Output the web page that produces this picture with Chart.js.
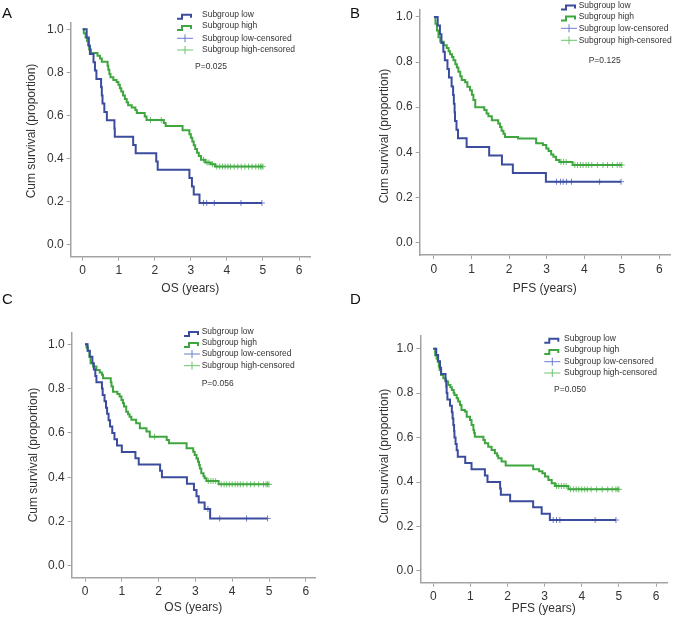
<!DOCTYPE html>
<html>
<head>
<meta charset="utf-8">
<script src="https://cdn.jsdelivr.net/npm/chart.js@4.4.0/dist/chart.umd.min.js"></script>
<style>
body { margin: 0; background: #fff; }
#page { position: relative; width: 675px; height: 617px; overflow: hidden; font-family: "Liberation Sans", Arial, sans-serif; }
.panel { position: absolute; }
.tag { position: absolute; font-size: 15px; line-height: 18px; color: #111; }
</style>
</head>
<body>
<div id="page">
  <div class="panel" style="left:0px;top:0px"><canvas id="chart0" width="337" height="308"></canvas></div>
  <div class="panel" style="left:337px;top:0px"><canvas id="chart1" width="338" height="308"></canvas></div>
  <div class="panel" style="left:0px;top:308px"><canvas id="chart2" width="337" height="309"></canvas></div>
  <div class="panel" style="left:337px;top:308px"><canvas id="chart3" width="338" height="309"></canvas></div>
  <div class="tag" style="left:2px;top:4px">A</div>
  <div class="tag" style="left:350px;top:4px">B</div>
  <div class="tag" style="left:2px;top:290px">C</div>
  <div class="tag" style="left:350px;top:290px">D</div>
</div>
<script>
// valeurs
const xTicks = [0, 1, 2, 3, 4, 5, 6];
const yTicks = [0, 0.2, 0.4, 0.6, 0.8, 1.0];
const seriesNames = ['Subgroup low', 'Subgroup high', 'Subgroup low-censored', 'Subgroup high-censored'];
const xTitles = ['OS (years)', 'PFS (years)', 'OS (years)', 'PFS (years)'];
const yTitle = 'Cum survival (proportion)';
const pValues = ['P=0.025', 'P=0.125', 'P=0.056', 'P=0.050'];

// A - OS
const aLowTime = [0.11, 0.17, 0.20, 0.30, 0.34, 0.38, 0.51, 0.53, 0.55, 0.60, 0.67, 0.88, 0.89, 1.40, 1.47, 2.04, 2.08, 2.96, 3.03, 3.08, 3.24];
const aLowSurv = [0.962, 0.923, 0.885, 0.846, 0.808, 0.769, 0.731, 0.692, 0.654, 0.615, 0.577, 0.538, 0.500, 0.462, 0.423, 0.385, 0.346, 0.308, 0.269, 0.231, 0.192];
const aLowCens = [3.35, 3.44, 3.65, 4.39, 4.97];
const aHighTime = [0.03, 0.08, 0.12, 0.15, 0.18, 0.23, 0.41, 0.48, 0.53, 0.69, 0.71, 0.74, 0.77, 0.85, 0.94, 0.99, 1.03, 1.07, 1.12, 1.17, 1.22, 1.26, 1.36, 1.46, 1.50, 1.72, 1.77, 2.25, 2.30, 2.77, 2.96, 3.00, 3.04, 3.08, 3.12, 3.17, 3.22, 3.28, 3.40, 3.55, 3.67];
const aHighSurv = [0.981, 0.962, 0.945, 0.925, 0.906, 0.890, 0.877, 0.864, 0.849, 0.830, 0.811, 0.792, 0.777, 0.764, 0.755, 0.742, 0.726, 0.710, 0.692, 0.675, 0.660, 0.647, 0.636, 0.624, 0.610, 0.594, 0.578, 0.564, 0.550, 0.530, 0.512, 0.495, 0.478, 0.460, 0.443, 0.426, 0.410, 0.393, 0.380, 0.372, 0.361];
const aHighCens = [1.88, 2.18, 3.35, 3.45, 3.50, 3.60, 3.72, 3.80, 3.88, 3.95, 4.03, 4.10, 4.20, 4.30, 4.40, 4.50, 4.60, 4.70, 4.80, 4.88, 4.93, 4.97, 5.00];

// B - PFS
const bLowTime = [0.10, 0.16, 0.20, 0.25, 0.29, 0.36, 0.40, 0.47, 0.51, 0.53, 0.55, 0.56, 0.60, 0.64, 0.87, 1.47, 1.81, 2.10, 2.98];
const bLowSurv = [0.962, 0.923, 0.885, 0.846, 0.808, 0.769, 0.731, 0.692, 0.654, 0.615, 0.577, 0.538, 0.500, 0.462, 0.423, 0.385, 0.346, 0.308, 0.269];
const bLowCens = [3.26, 3.37, 3.44, 3.53, 3.66, 4.41, 4.98];
const bHighTime = [0.04, 0.08, 0.12, 0.17, 0.26, 0.34, 0.39, 0.43, 0.48, 0.52, 0.57, 0.61, 0.65, 0.70, 0.74, 0.83, 0.89, 0.96, 1.01, 1.05, 1.10, 1.34, 1.40, 1.45, 1.54, 1.71, 1.76, 1.80, 1.85, 1.89, 2.24, 2.72, 2.90, 2.99, 3.05, 3.12, 3.18, 3.25, 3.34, 3.69];
const bHighSurv = [0.970, 0.940, 0.910, 0.890, 0.874, 0.862, 0.848, 0.835, 0.822, 0.808, 0.790, 0.776, 0.757, 0.737, 0.720, 0.710, 0.690, 0.675, 0.655, 0.632, 0.600, 0.587, 0.572, 0.560, 0.542, 0.527, 0.512, 0.495, 0.482, 0.468, 0.461, 0.440, 0.432, 0.417, 0.405, 0.390, 0.380, 0.365, 0.357, 0.343];
const bHighCens = [3.38, 3.45, 3.52, 3.75, 3.82, 3.90, 3.97, 4.05, 4.12, 4.20, 4.35, 4.50, 4.62, 4.75, 4.88, 4.95, 5.00];

// C - OS
const cLowTime = [0.07, 0.13, 0.20, 0.24, 0.28, 0.31, 0.46, 0.48, 0.53, 0.57, 0.60, 0.64, 0.68, 0.74, 0.80, 0.87, 1.00, 1.37, 1.46, 2.04, 2.09, 2.77, 2.96, 3.03, 3.09, 3.25, 3.40];
const cLowSurv = [0.971, 0.943, 0.914, 0.886, 0.857, 0.829, 0.800, 0.771, 0.743, 0.714, 0.686, 0.657, 0.629, 0.600, 0.571, 0.543, 0.514, 0.486, 0.457, 0.429, 0.400, 0.371, 0.343, 0.314, 0.286, 0.257, 0.214];
const cLowCens = [3.34, 3.66, 4.39, 4.96];
const cHighTime = [0.04, 0.08, 0.12, 0.15, 0.22, 0.31, 0.40, 0.46, 0.49, 0.70, 0.72, 0.76, 0.88, 0.94, 0.99, 1.03, 1.06, 1.12, 1.17, 1.21, 1.26, 1.39, 1.49, 1.67, 1.76, 2.22, 2.28, 2.76, 2.94, 2.98, 3.03, 3.07, 3.10, 3.12, 3.16, 3.22, 3.25, 3.30, 3.63];
const cHighSurv = [0.985, 0.970, 0.944, 0.914, 0.899, 0.884, 0.873, 0.862, 0.847, 0.828, 0.809, 0.786, 0.776, 0.764, 0.749, 0.734, 0.719, 0.696, 0.684, 0.673, 0.659, 0.644, 0.621, 0.606, 0.583, 0.568, 0.553, 0.531, 0.515, 0.500, 0.485, 0.470, 0.455, 0.440, 0.418, 0.405, 0.396, 0.383, 0.368];
const cHighCens = [1.89, 3.35, 3.42, 3.48, 3.55, 3.70, 3.78, 3.85, 3.92, 4.00, 4.08, 4.15, 4.22, 4.30, 4.40, 4.50, 4.60, 4.72, 4.85, 4.92, 4.96, 5.00];

// D - PFS
const dLowTime = [0.08, 0.13, 0.18, 0.21, 0.33, 0.35, 0.36, 0.38, 0.45, 0.50, 0.52, 0.54, 0.56, 0.57, 0.60, 0.63, 0.66, 0.86, 1.03, 1.39, 1.46, 1.80, 1.82, 2.07, 2.69, 2.92, 3.14];
const dLowSurv = [0.971, 0.943, 0.914, 0.886, 0.857, 0.829, 0.800, 0.771, 0.743, 0.714, 0.686, 0.657, 0.629, 0.600, 0.571, 0.543, 0.514, 0.486, 0.457, 0.429, 0.400, 0.371, 0.343, 0.314, 0.286, 0.257, 0.229];
const dLowCens = [3.23, 3.32, 3.41, 4.36, 4.92];
const dHighTime = [0.05, 0.09, 0.12, 0.15, 0.17, 0.21, 0.27, 0.33, 0.40, 0.46, 0.50, 0.55, 0.57, 0.63, 0.67, 0.72, 0.76, 0.85, 0.90, 0.99, 1.03, 1.08, 1.10, 1.12, 1.35, 1.39, 1.48, 1.57, 1.66, 1.72, 1.75, 1.84, 1.95, 2.69, 2.85, 2.94, 3.01, 3.10, 3.19, 3.28, 3.64];
const dHighSurv = [0.970, 0.956, 0.942, 0.920, 0.904, 0.882, 0.867, 0.852, 0.837, 0.826, 0.814, 0.800, 0.792, 0.777, 0.762, 0.747, 0.724, 0.717, 0.694, 0.679, 0.657, 0.634, 0.620, 0.604, 0.589, 0.574, 0.559, 0.544, 0.529, 0.518, 0.507, 0.492, 0.474, 0.457, 0.448, 0.440, 0.425, 0.409, 0.394, 0.382, 0.367];
const dHighCens = [3.32, 3.38, 3.45, 3.52, 3.58, 3.70, 3.78, 3.85, 3.92, 4.00, 4.08, 4.15, 4.25, 4.40, 4.55, 4.70, 4.82, 4.92, 4.97, 5.00];

const panelData = [
    { lowT: aLowTime, lowS: aLowSurv, lowC: aLowCens, highT: aHighTime, highS: aHighSurv, highC: aHighCens },
    { lowT: bLowTime, lowS: bLowSurv, lowC: bLowCens, highT: bHighTime, highS: bHighSurv, highC: bHighCens },
    { lowT: cLowTime, lowS: cLowSurv, lowC: cLowCens, highT: cHighTime, highS: cHighSurv, highC: cHighCens },
    { lowT: dLowTime, lowS: dLowSurv, lowC: dLowCens, highT: dHighTime, highS: dHighSurv, highC: dHighCens }
];

// mise en page de chaque panneau (coordonnées de la page)
const panels = [
    { left: 0, top: 0, pad: { left: 24.5, top: 23, right: 27, bottom: 11.8 }, yWidth: 46.2, xHeight: 39.5,
      xMin: -0.333, xMax: 6.305, yMin: -0.058, yMax: 1.029, yTitlePos: [31.7, 131],
      leg: { sx: 177, tx: 202, rows: [14.7, 26, 38.3, 50], px: 195, py: 67 } },
    { left: 337, top: 0, pad: { left: 40, top: 10, right: 4, bottom: 11.8 }, yWidth: 42.7, xHeight: 41.2,
      xMin: -0.379, xMax: 6.283, yMin: -0.056, yMax: 1.03, yTitlePos: [384.2, 136],
      leg: { sx: 561, tx: 578.7, rows: [5.5, 16.5, 28.3, 40.3], px: 588.7, py: 61 } },
    { left: 0, top: 308, pad: { left: 26.1, top: 24.7, right: 22, bottom: 1.8 }, yWidth: 45.6, xHeight: 37.5,
      xMin: -0.362, xMax: 6.25, yMin: -0.053, yMax: 1.052, yTitlePos: [33.3, 455],
      leg: { sx: 184, tx: 201.7, rows: [332, 343, 354, 365.7], px: 201.7, py: 383.3 } },
    { left: 337, top: 308, pad: { left: 40.3, top: 28, right: 8, bottom: 0.8 }, yWidth: 43, xHeight: 33.5,
      xMin: -0.35, xMax: 6.296, yMin: -0.053, yMax: 1.057, yTitlePos: [384.5, 456],
      leg: { sx: 544.3, tx: 564, rows: [338.7, 350, 361.7, 373], px: 554, py: 390 } }
];

const fontFam = '"Liberation Sans", Arial, sans-serif';
const blue = '#3b4c9e';
const green = '#3fa63f';
const blueCens = '#6b7fcc';
const greenCens = '#6cc46c';
const axisGray = '#a3a3a3';

function survAt(times, surv, t) {
    let s = 1;
    for (let i = 0; i < times.length; i++) {
        if (times[i] <= t) s = surv[i];
    }
    return s;
}

function courbe(times, surv, cens) {
    const pts = [{ x: 0, y: 1 }];
    times.forEach((t, i) => pts.push({ x: t, y: surv[i] }));
    pts.push({ x: Math.max(...cens), y: surv[surv.length - 1] });
    return pts;
}

function censures(times, surv, cens) {
    return cens.map(t => ({ x: t, y: survAt(times, surv, t) }));
}

// légende, valeur p et titre vertical dessinés dans le graphique
const legendeKM = {
    id: 'legendeKM',
    afterDraw(chart, args, opts) {
        const ctx = chart.ctx;
        const ds = chart.data.datasets;
        ctx.save();
        ctx.font = '8.5px ' + fontFam;
        ctx.textBaseline = 'middle';
        ctx.textAlign = 'left';
        opts.rows.forEach((y, i) => {
            const x = opts.sx;
            ctx.strokeStyle = ds[i].borderColor;
            ctx.beginPath();
            if (i < 2) {
                ctx.lineWidth = 2;
                ctx.moveTo(x, y + 4);
                ctx.lineTo(x + 5, y + 4);
                ctx.lineTo(x + 5, y);
                ctx.lineTo(x + 14, y);
                ctx.lineTo(x + 14, y + 3);
            } else {
                ctx.lineWidth = 1;
                ctx.moveTo(x, y);
                ctx.lineTo(x + 16, y);
                ctx.moveTo(x + 8, y - 4);
                ctx.lineTo(x + 8, y + 4);
            }
            ctx.stroke();
            ctx.fillStyle = '#333';
            ctx.fillText(ds[i].label, opts.tx, y);
        });
        ctx.fillStyle = '#333';
        ctx.fillText(opts.p, opts.px, opts.py);

        // titre de l'axe y
        ctx.translate(opts.yt[0], opts.yt[1]);
        ctx.rotate(-Math.PI / 2);
        ctx.font = '12px ' + fontFam;
        ctx.textAlign = 'center';
        ctx.fillText(yTitle, 0, 0);
        ctx.restore();
    }
};

Chart.defaults.font.family = fontFam;

panels.forEach((cfg, k) => {
    const d = panelData[k];
    const ctx = document.getElementById('chart' + k).getContext('2d');
    const leg = {
        sx: cfg.leg.sx - cfg.left,
        tx: cfg.leg.tx - cfg.left,
        rows: cfg.leg.rows.map(y => y - cfg.top),
        px: cfg.leg.px - cfg.left,
        py: cfg.leg.py - cfg.top,
        p: pValues[k],
        yt: [cfg.yTitlePos[0] - cfg.left, cfg.yTitlePos[1] - cfg.top]
    };

    new Chart(ctx, {
        type: 'scatter',
        data: {
            datasets: [
                {
                    label: seriesNames[0],
                    data: courbe(d.lowT, d.lowS, d.lowC),
                    showLine: true,
                    stepped: true,
                    borderColor: blue,
                    borderWidth: 2,
                    pointRadius: 0
                },
                {
                    label: seriesNames[1],
                    data: courbe(d.highT, d.highS, d.highC),
                    showLine: true,
                    stepped: true,
                    borderColor: green,
                    borderWidth: 2,
                    pointRadius: 0
                },
                {
                    label: seriesNames[2],
                    data: censures(d.lowT, d.lowS, d.lowC),
                    showLine: false,
                    pointStyle: 'cross',
                    pointRadius: 3,
                    borderWidth: 1,
                    borderColor: blueCens,
                    backgroundColor: blueCens
                },
                {
                    label: seriesNames[3],
                    data: censures(d.highT, d.highS, d.highC),
                    showLine: false,
                    pointStyle: 'cross',
                    pointRadius: 3,
                    borderWidth: 1,
                    borderColor: greenCens,
                    backgroundColor: greenCens
                }
            ]
        },
        options: {
            responsive: false,
            animation: false,
            layout: { padding: cfg.pad },
            plugins: {
                legend: { display: false },
                tooltip: { enabled: false },
                legendeKM: leg
            },
            scales: {
                x: {
                    type: 'linear',
                    min: cfg.xMin,
                    max: cfg.xMax,
                    afterBuildTicks: s => { s.ticks = xTicks.map(v => ({ value: v })); },
                    afterFit: s => { s.height = cfg.xHeight; },
                    ticks: { callback: v => String(v), color: '#333', font: { size: 12 }, padding: 3, maxRotation: 0, autoSkip: false },
                    grid: { drawOnChartArea: false, drawTicks: true, tickLength: 4, color: axisGray, lineWidth: 1 },
                    border: { display: true, color: axisGray, width: 1.5 },
                    title: { display: true, text: xTitles[k], color: '#333', font: { size: 12 }, padding: 0 }
                },
                y: {
                    type: 'linear',
                    min: cfg.yMin,
                    max: cfg.yMax,
                    afterBuildTicks: s => { s.ticks = yTicks.map(v => ({ value: v })); },
                    afterFit: s => { s.width = cfg.yWidth; },
                    ticks: { callback: v => v.toFixed(1), color: '#333', font: { size: 12 }, padding: 3, autoSkip: false },
                    grid: { drawOnChartArea: false, drawTicks: true, tickLength: 4, color: axisGray, lineWidth: 1 },
                    border: { display: true, color: axisGray, width: 1.5 },
                    title: { display: false }
                }
            }
        },
        plugins: [legendeKM]
    });
});
</script>
</body>
</html>
